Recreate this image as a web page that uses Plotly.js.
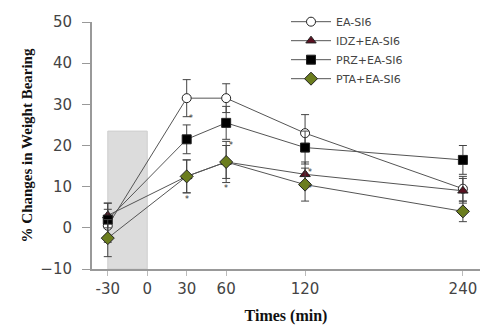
<!DOCTYPE html>
<html>
<head>
<meta charset="utf-8">
<script src="https://cdn.plot.ly/plotly-3.0.1.min.js"></script>
<style>html,body{margin:0;padding:0;background:#fff;}#chart{width:487px;height:329px;}</style>
</head>
<body>
<div id="chart"></div>
<script>
var times = [-30, 30, 60, 120, 240];
var tickVals = [-30, 0, 30, 60, 120, 240];
var tickText = ["-30", "0", "30", "60", "120", "240"];
var seriesNames = ["EA-SI6", "IDZ+EA-SI6", "PRZ+EA-SI6", "PTA+EA-SI6"];
var eaSi6 = [0.5, 31.5, 31.5, 23, 9.5];
var eaSi6Err = [4, 4.5, 3.5, 4.5, 3];
var idz = [3, 12.5, 16, 13, 9];
var idzErr = [3, 4, 4, 3, 3];
var prz = [2, 21.5, 25.5, 19.5, 16.5];
var przErr = [4, 3.5, 4, 4, 3.5];
var pta = [-2.5, 12.5, 16, 10.5, 4];
var ptaErr = [4.5, 4, 5, 4, 2.5];
var shadeX = [-30, 0];
var shadeY = [-10, 23.5];
var starX = [33, 30, 64, 60, 124, 124];
var starY = [26.5, 7, 20, 9.5, 13.5, 9.5];

function mk(name, y, err, symbol, fill, size) {
  return {
    x: times, y: y, name: name, type: 'scatter', mode: 'lines+markers',
    line: {color: '#555', width: 1},
    marker: {symbol: symbol, color: fill, size: size, line: {color: '#222', width: 1}},
    error_y: {type: 'data', array: err, visible: true, color: '#444', thickness: 1, width: 4}
  };
}
var data = [
  mk(seriesNames[0], eaSi6, eaSi6Err, 'circle', '#ffffff', 9),
  mk(seriesNames[1], idz, idzErr, 'triangle-up', '#5a1020', 9),
  mk(seriesNames[2], prz, przErr, 'square', '#000000', 9),
  mk(seriesNames[3], pta, ptaErr, 'diamond', '#6b7d1e', 10)
];
var annotations = starX.map(function (x, i) {
  return {x: x, y: starY[i], xref: 'x', yref: 'y', text: '*', showarrow: false,
    font: {family: 'DejaVu Sans, sans-serif', size: 8, color: '#333'}};
});
var layout = {
  width: 487, height: 329,
  margin: {l: 92, r: 7, t: 13, b: 60},
  paper_bgcolor: '#fff', plot_bgcolor: '#fff',
  showlegend: true,
  legend: {x: 0.5, y: 1.06, xanchor: 'left', yanchor: 'top', bgcolor: 'rgba(0,0,0,0)',
    font: {family: 'DejaVu Sans, sans-serif', size: 11, color: '#444'},
    tracegroupgap: 0, itemwidth: 40},
  annotations: annotations,
  xaxis: {range: [-42, 253], tickvals: tickVals, ticktext: tickText,
    showgrid: false, zeroline: false, showline: true, linecolor: '#999', linewidth: 2,
    ticks: 'outside', ticklen: 5, tickcolor: '#bbb',
    tickfont: {family: 'DejaVu Sans, sans-serif', size: 15, color: '#444'},
    title: {text: 'Times (min)', font: {family: 'Liberation Serif, Times New Roman, serif', size: 16, color: '#111', weight: 'bold'}, standoff: 13}},
  yaxis: {range: [-10, 50], dtick: 10,
    showgrid: false, zeroline: false, showline: true, linecolor: '#999', linewidth: 2,
    ticks: 'outside', ticklen: 8, tickcolor: '#999', ticklabelstandoff: 7,
    tickfont: {family: 'DejaVu Sans, sans-serif', size: 15, color: '#444'},
    title: {text: '% Changes in Weight Bearing', font: {family: 'Liberation Serif, Times New Roman, serif', size: 15, color: '#111', weight: 'bold'}, standoff: 4}},
  shapes: [{type: 'rect', xref: 'x', yref: 'y', x0: shadeX[0], x1: shadeX[1], y0: shadeY[0], y1: shadeY[1],
    fillcolor: '#dcdcdc', line: {color: '#cfcfcf', width: 1}, layer: 'below'}]
};
Plotly.newPlot('chart', data, layout, {displayModeBar: false, staticPlot: true});
</script>
</body>
</html>
